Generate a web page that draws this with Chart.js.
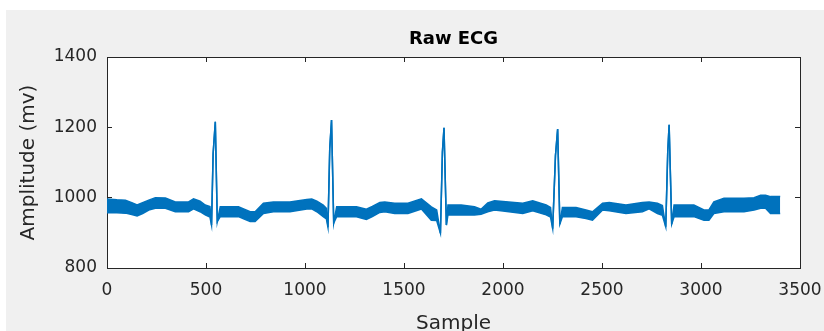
<!DOCTYPE html>
<html>
<head>
<meta charset="utf-8">
<script src="https://cdn.jsdelivr.net/npm/chart.js@4.4.1/dist/chart.umd.min.js"></script>
<style>
  html, body { margin: 0; padding: 0; background: #ffffff; }
  canvas { display: block; }
</style>
</head>
<body>
<canvas id="ecg" width="824" height="331"></canvas>
<script>
var sampleIdx = [
	0, 50, 93, 125, 152, 180, 211, 244, 295, 345, 412, 437, 470, 496, 520,
	528, 536, 547, 557,
	572, 664, 690, 723, 748, 790, 840, 924, 1009, 1034, 1060, 1092, 1108,
	1116, 1125, 1134, 1145,
	1160, 1260, 1310, 1340, 1378, 1403, 1453, 1520, 1588, 1638, 1665,
	1684, 1694, 1702, 1714,
	1722, 1789, 1856, 1889, 1923, 1957, 2000, 2100, 2150, 2218, 2240,
	2251, 2265, 2276, 2287,
	2300, 2369, 2419, 2452, 2503, 2537, 2621, 2704, 2738, 2780, 2805,
	2822, 2832, 2839, 2852,
	2864, 2964, 3015, 3040, 3065, 3116, 3217, 3268, 3301, 3326, 3351, 3400
];
// top edge of the noisy trace (mv)
var upperEnv = [
	996, 994, 993, 986, 979, 986, 993, 1000, 999, 988, 988, 997, 990, 979, 975,
	922, 1125, 1216, 932,
	974, 974, 968, 960, 960, 984, 988, 988, 995, 996, 990, 979, 970,
	916, 1140, 1221, 928,
	974, 974, 967, 975, 986, 988, 984, 984, 997, 974, 965,
	899, 1130, 1199, 922,
	979, 979, 974, 967, 985, 991, 989, 984, 991, 979, 972,
	912, 1120, 1195, 925,
	972, 972, 965, 960, 984, 986, 979, 986, 988, 984, 978,
	917, 1130, 1207, 925,
	979, 979, 965, 965, 988, 998, 998, 1000, 1007, 1007, 1003, 1003
];
// bottom edge of the noisy trace (mv)
var lowerEnv = [
	957, 957, 956, 952, 948, 955, 965, 970, 970, 960, 960, 968, 960, 951, 945,
	922, 1125, 1216, 932,
	946, 946, 940, 932, 932, 955, 960, 960, 968, 968, 960, 946, 940,
	916, 1140, 1221, 928,
	946, 946, 938, 946, 958, 960, 955, 955, 968, 936, 935,
	899, 1130, 1199, 922,
	951, 951, 951, 953, 960, 965, 962, 955, 963, 951, 945,
	912, 1120, 1195, 925,
	946, 946, 941, 936, 965, 963, 955, 960, 968, 955, 950,
	917, 1130, 1207, 925,
	946, 946, 936, 936, 955, 960, 960, 965, 970, 970, 955, 955
];

var xTickValues = [0, 500, 1000, 1500, 2000, 2500, 3000, 3500];
var yTickValues = [800, 1000, 1200, 1400];

var axisColor = '#262626';
var lineColor = 'rgb(0, 114, 189)';

function pts(ys) {
	return sampleIdx.map(function (s, i) { return { x: s, y: ys[i] }; });
}

// grey figure panel + white axes box
var panelBg = {
	id: 'panelBg',
	beforeDraw: function (chart) {
		var c = chart.ctx, a = chart.chartArea;
		c.save();
		c.fillStyle = '#ffffff';
		c.fillRect(0, 0, chart.width, chart.height);
		c.fillStyle = '#f0f0f0';
		c.fillRect(6, 10, chart.width - 6, chart.height - 10);
		c.fillStyle = '#ffffff';
		c.fillRect(a.left, a.top, a.right - a.left, a.bottom - a.top);
		c.restore();
	}
};

Chart.defaults.font.family = '"DejaVu Sans", sans-serif';
Chart.defaults.color = axisColor;

var ctx = document.getElementById('ecg').getContext('2d');
var chart = new Chart(ctx, {
	type: 'line',
	data: {
		datasets: [{
			label: 'upper',
			data: pts(upperEnv),
			borderColor: lineColor,
			borderWidth: 1.5,
			pointRadius: 0,
			tension: 0,
			fill: false
		}, {
			label: 'lower',
			data: pts(lowerEnv),
			borderColor: lineColor,
			backgroundColor: lineColor,
			borderWidth: 1.5,
			pointRadius: 0,
			tension: 0,
			fill: '-1'
		}]
	},
	options: {
		responsive: false,
		animation: false,
		layout: { padding: { left: 0, right: 24, top: 0, bottom: 0 } },
		plugins: {
			legend: { display: false },
			tooltip: { enabled: false }
		},
		scales: {
			x: {
				type: 'linear', position: 'bottom', min: 0, max: 3500,
				afterBuildTicks: function (s) { s.ticks = xTickValues.map(function (v) { return { value: v }; }); },
				ticks: { font: { size: 17 }, padding: 17, maxRotation: 0, autoSkip: false,
					callback: function (v) { return String(v); } },
				grid: { drawOnChartArea: false, tickLength: -5, color: axisColor },
				border: { color: axisColor, width: 1 },
				title: { display: true, text: 'Sample', font: { size: 20 }, padding: { top: 0, bottom: -5 } },
				afterFit: function (s) { s.height = 63; s.paddingLeft = 0; s.paddingRight = 0; }
			},
			x2: {
				type: 'linear', position: 'top', min: 0, max: 3500,
				afterBuildTicks: function (s) { s.ticks = xTickValues.map(function (v) { return { value: v }; }); },
				ticks: { display: false },
				grid: { drawOnChartArea: false, tickLength: -5, color: axisColor },
				border: { color: axisColor, width: 1 },
				title: { display: true, text: 'Raw ECG', font: { size: 18, weight: 'bold' }, color: '#000000', padding: { top: 29, bottom: 0 } },
				afterFit: function (s) { s.height = 57; s.paddingLeft = 0; s.paddingRight = 0; }
			},
			y: {
				type: 'linear', position: 'left', min: 800, max: 1400,
				afterBuildTicks: function (s) { s.ticks = yTickValues.map(function (v) { return { value: v }; }); },
				ticks: { font: { size: 17 }, padding: 15, callback: function (v) { return String(v); } },
				grid: { drawOnChartArea: false, tickLength: -5, color: axisColor },
				border: { color: axisColor, width: 1 },
				title: { display: true, text: 'Amplitude (mv)', font: { size: 20 }, padding: { top: 17, bottom: 0 } },
				afterFit: function (s) { s.width = 107; s.paddingTop = 0; s.paddingBottom = 0; }
			},
			y2: {
				type: 'linear', position: 'right', min: 800, max: 1400,
				afterBuildTicks: function (s) { s.ticks = yTickValues.map(function (v) { return { value: v }; }); },
				ticks: { display: false },
				grid: { drawOnChartArea: false, tickLength: -5, color: axisColor },
				border: { color: axisColor, width: 1 },
				afterFit: function (s) { s.width = 0; s.paddingTop = 0; s.paddingBottom = 0; }
			}
		}
	},
	plugins: [panelBg]
});
</script>
</body>
</html>
